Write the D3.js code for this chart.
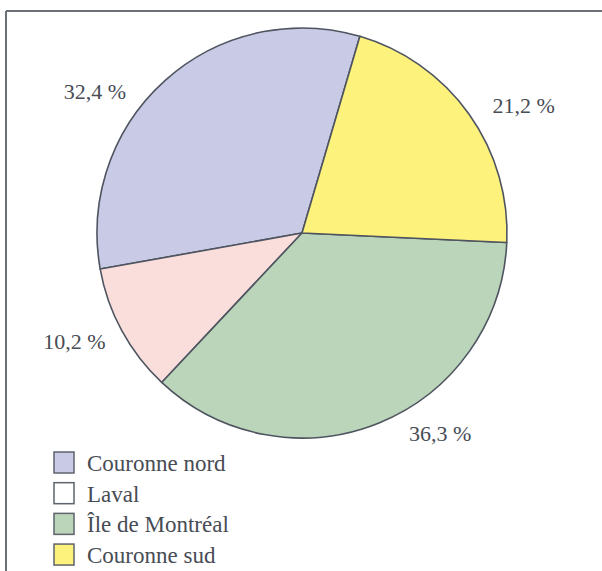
<!DOCTYPE html>
<html>
<head>
<meta charset="utf-8">
<script src="https://cdn.jsdelivr.net/npm/d3@7"></script>
<style>
  html, body { margin: 0; padding: 0; background: #fff; }
  svg { display: block; }
</style>
</head>
<body>
<svg id="chart" width="602" height="571"></svg>
<script>
// ---- data ----
const categories = ["Couronne nord", "Laval", "Île de Montréal", "Couronne sud"];
const values = [32.4, 10.2, 36.3, 21.2];
const labels = ["32,4 %", "10,2 %", "36,3 %", "21,2 %"];
const sliceColors = ["#c9cbe6", "#f9dedc", "#bad5b9", "#fdf27c"];
const legendColors = ["#c9cbe6", "#ffffff", "#bad5b9", "#fdf27c"];
// label angle nudges (degrees) relative to slice mid-angle
const labelNudge = [-13.7, 3, -12.6, 5.5];
const labelRadius = [251, 252, 243, 256];

const svg = d3.select("#chart");
const W = 602, H = 571;
const cx = 302, cy = 233, R = 205;
const deg = Math.PI / 180;

// frame (top and left borders)
svg.append("line").attr("x1", 6).attr("y1", 11).attr("x2", W).attr("y2", 11)
  .attr("stroke", "#6b6f78").attr("stroke-width", 2);
svg.append("line").attr("x1", 6).attr("y1", 11).attr("x2", 6).attr("y2", H)
  .attr("stroke", "#6b6f78").attr("stroke-width", 2);

const start = 16.4 * deg;
const pie = d3.pie().sort(null).value(d => d)
  .startAngle(start).endAngle(start - 2 * Math.PI);
const arcs = pie(values);
const arc = d3.arc().innerRadius(0).outerRadius(R);

const g = svg.append("g").attr("transform", `translate(${cx},${cy})`);
g.selectAll("path").data(arcs).join("path")
  .attr("d", arc)
  .attr("fill", (d, i) => sliceColors[i])
  .attr("stroke", "#4f5560")
  .attr("stroke-width", 1.6)
  .attr("stroke-linejoin", "round");

g.selectAll("text.lbl").data(arcs).join("text")
  .attr("class", "lbl")
  .attr("x", (d, i) => {
    const a = (d.startAngle + d.endAngle) / 2 + labelNudge[i] * deg;
    return labelRadius[i] * Math.sin(a);
  })
  .attr("y", (d, i) => {
    const a = (d.startAngle + d.endAngle) / 2 + labelNudge[i] * deg;
    return -labelRadius[i] * Math.cos(a);
  })
  .attr("dy", "0.35em")
  .attr("text-anchor", "middle")
  .attr("font-family", "'Liberation Serif', 'Times New Roman', serif")
  .attr("font-size", 22)
  .attr("fill", "#474c55")
  .text((d, i) => labels[i]);

// legend
const legendY = d3.scaleBand().domain(categories).range([452, 568]).paddingInner(0.22);
const lg = svg.append("g");
const rows = lg.selectAll("g").data(categories).join("g")
  .attr("transform", d => `translate(54,${legendY(d)})`);
rows.append("rect")
  .attr("x", 0).attr("y", 0)
  .attr("width", 20).attr("height", 21)
  .attr("fill", (d, i) => legendColors[i])
  .attr("stroke", "#5e636c").attr("stroke-width", 1.5);
rows.append("text")
  .attr("x", 33).attr("y", 11)
  .attr("dy", "0.35em")
  .attr("font-family", "'Liberation Serif', 'Times New Roman', serif")
  .attr("font-size", 23)
  .attr("fill", "#474c55")
  .text(d => d);
</script>
</body>
</html>
